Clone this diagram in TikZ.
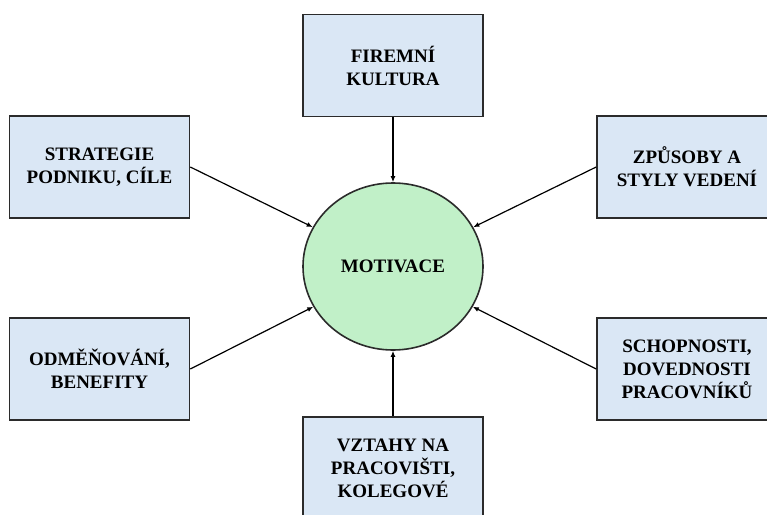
\documentclass[tikz,border=0pt]{standalone}
\usepackage{fontspec}
\setmainfont{Liberation Serif}
\usetikzlibrary{arrows.meta,shapes.geometric}
\definecolor{boxfill}{HTML}{DAE7F5}
\definecolor{circfill}{HTML}{C1F0C8}
\definecolor{edge}{HTML}{2B2B2B}
\tikzset{
  factor/.style={draw=edge, line width=1.6pt, fill=boxfill, minimum width=180pt, minimum height=102pt,
    inner sep=0pt, align=center, font=\fontsize{19}{23}\selectfont\bfseries},
  core/.style={draw=edge, line width=1.6pt, fill=circfill, ellipse, minimum width=180pt, minimum height=167pt,
    inner sep=0pt, font=\fontsize{19}{23}\selectfont\bfseries},
  link/.style={draw=black, line width=1.2pt, -{Latex[length=6pt,width=5pt]}}
}
\begin{document}
\begin{tikzpicture}[x=1pt,y=-1pt]
\useasboundingbox (0,0) rectangle (767,514);
\clip (0,0) rectangle (767,514);
\fill[white] (0,0) rectangle (767,514);
\node[core] (m) at (393,266.5) {MOTIVACE};
\node[factor] (top) at (393,65.5) {FIREMNÍ\\KULTURA};
\node[factor] (lt) at (99.5,167) {STRATEGIE\\PODNIKU, CÍLE};
\node[factor] (lb) at (99.5,369) {ODMĚŇOVÁNÍ,\\BENEFITY};
\node[factor] (rt) at (687,167) {ZPŮSOBY A\\STYLY VEDENÍ};
\node[factor] (rb) at (687,369) {SCHOPNOSTI,\\DOVEDNOSTI\\PRACOVNÍKŮ};
\node[factor] (bot) at (393,468) {VZTAHY NA\\PRACOVIŠTI,\\KOLEGOVÉ};
\draw[link] (top.south) -- (m);
\draw[link] (bot.north) -- (m);
\draw[link] (lt.east) -- (m);
\draw[link] (lb.east) -- (m);
\draw[link] (rt.west) -- (m);
\draw[link] (rb.west) -- (m);
\end{tikzpicture}
\end{document}
